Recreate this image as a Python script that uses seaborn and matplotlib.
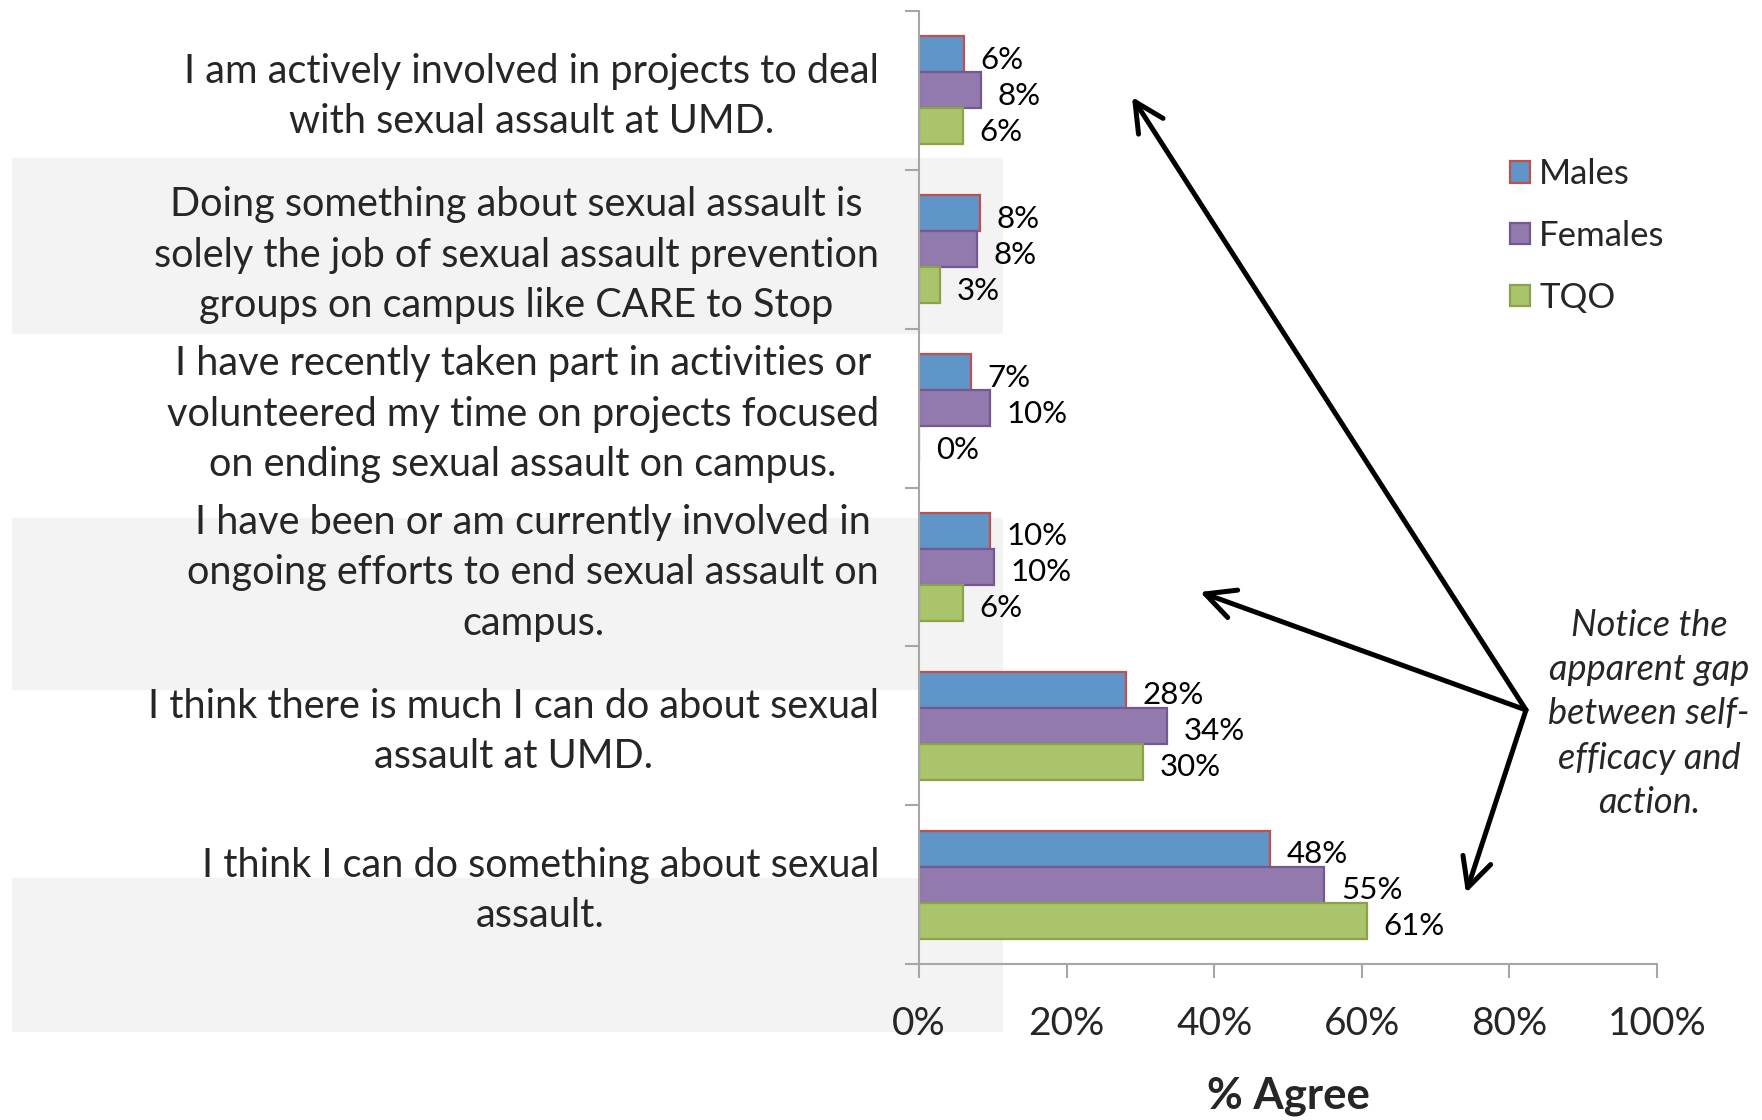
import matplotlib
matplotlib.use("Agg")
import matplotlib.pyplot as plt
import seaborn as sns
import pandas as pd
from matplotlib.patches import Rectangle
from matplotlib.text import Annotation
from matplotlib.transforms import ScaledTranslation

statements = [
    "I am actively involved in projects to deal\nwith sexual assault at UMD.",
    "Doing something about sexual assault is\nsolely the job of sexual assault prevention\ngroups on campus like CARE to Stop",
    "I have recently taken part in activities or\nvolunteered my time on projects focused\non ending sexual assault on campus.",
    "I have been or am currently involved in\nongoing efforts to end sexual assault on\ncampus.",
    "I think there is much I can do about sexual\nassault at UMD.",
    "I think I can do something about sexual\nassault.",
]
groups = ["Males", "Females", "TQO"]
males = [6.1, 8.2, 7.0, 9.6, 28.0, 47.6]
females = [8.4, 7.9, 9.6, 10.2, 33.6, 54.9]
tqo = [5.9, 2.9, 0.0, 5.9, 30.3, 60.7]
xticks = [0, 20, 40, 60, 80, 100]
xtick_labels = ["0%", "20%", "40%", "60%", "80%", "100%"]
note = "Notice the\napparent gap\nbetween self-\nefficacy and\naction."

fills = {"Males": "#5F95C9", "Females": "#9279AE", "TQO": "#A9C46B"}
edges = {"Males": "#C0504D", "Females": "#725990", "TQO": "#8AA348"}

rows = []
for s, m, f, t in zip(statements, males, females, tqo):
    rows += [(s, "Males", m), (s, "Females", f), (s, "TQO", t)]
df = pd.DataFrame(rows, columns=["statement", "group", "value"])

sns.set_theme(style="white")
FONT = ["Lato", "DejaVu Sans"]
plt.rcParams["font.family"] = FONT

W, H = 1762, 1120
fig = plt.figure(figsize=(W / 100, H / 100), dpi=100)
ax = fig.add_axes([919 / W, 1 - 964 / H, (1657 - 919) / W, (964 - 11) / H])
ax.patch.set_alpha(0)

# light grey text-box backgrounds
for y0, y1 in [(158, 334), (518, 690), (878, 1032)]:
    fig.patches.append(Rectangle((12 / W, 1 - y1 / H), (1003 - 12) / W, (y1 - y0) / H,
                                 transform=fig.transFigure, facecolor="#F3F3F3",
                                 edgecolor="none", zorder=-5))

sns.barplot(data=df, y="statement", x="value", hue="group", hue_order=groups,
            order=statements, orient="h", palette=fills, width=0.68,
            saturation=1, legend=False, ax=ax, errorbar=None)

for cont, g in zip(ax.containers, groups):
    for p in cont.patches:
        p.set_edgecolor(edges[g])
        p.set_linewidth(1.6)
    anns = ax.bar_label(cont, fmt=lambda v: f"{v:.0f}%", padding=12, fontsize=22.5,
                        color="black")
    for a in anns:
        a.xyann = (12, -4)

ax.set_xlim(0, 100)
ax.set_ylim(len(statements) - 0.5, -0.5)
ax.set_xticks(xticks, xtick_labels)
ax.set_yticks([i - 0.5 for i in range(len(statements) + 1)], [""] * (len(statements) + 1))

lab_tr = ax.get_yaxis_transform() + ScaledTranslation(-40 / 100, -6 / 100, fig.dpi_scale_trans)
for i, s in enumerate(statements):
    ax.text(0, i, s, transform=lab_tr, ha="right", va="center", multialignment="center",
            linespacing=1.45, fontsize=28.5)

ax.tick_params(axis="y", which="major", length=10, width=1.5, color="#A6A6A6", left=True)
ax.tick_params(axis="x", which="major", length=10, width=1.5, color="#A6A6A6",
               bottom=True, pad=20, labelsize=28)
for side in ["top", "right"]:
    ax.spines[side].set_visible(False)
for side in ["left", "bottom"]:
    ax.spines[side].set_color("#A6A6A6")
    ax.spines[side].set_linewidth(1.5)
ax.set_ylabel("")
ax.set_xlabel("% Agree", fontsize=31.5, fontweight="bold", labelpad=25)

leg = ax.legend(ax.containers, groups, loc="center left",
                bbox_to_anchor=(1510 / W, 1 - 236 / H), bbox_transform=fig.transFigure,
                frameon=False, fontsize=25, handlelength=0.57, handleheight=0.57,
                handletextpad=0.27, labelspacing=0.86, borderpad=0, borderaxespad=0)

fig.text(1649 / W, 1 - 714 / H, note, ha="center", va="center", fontsize=26,
         style="italic", linespacing=1.42)

tail = (1526 / W, 1 - 710 / H)
for hx, hy in [(1132, 97), (1200, 592), (1466, 893)]:
    fig.add_artist(Annotation(
        "", xy=(hx / W, 1 - hy / H), xytext=tail, xycoords="figure fraction",
        textcoords="figure fraction",
        arrowprops=dict(arrowstyle="->,head_length=0.7,head_width=0.35",
                        lw=3.6, color="black", mutation_scale=30,
                        shrinkA=0, shrinkB=0)))

fig.savefig("out.png", dpi=100)
